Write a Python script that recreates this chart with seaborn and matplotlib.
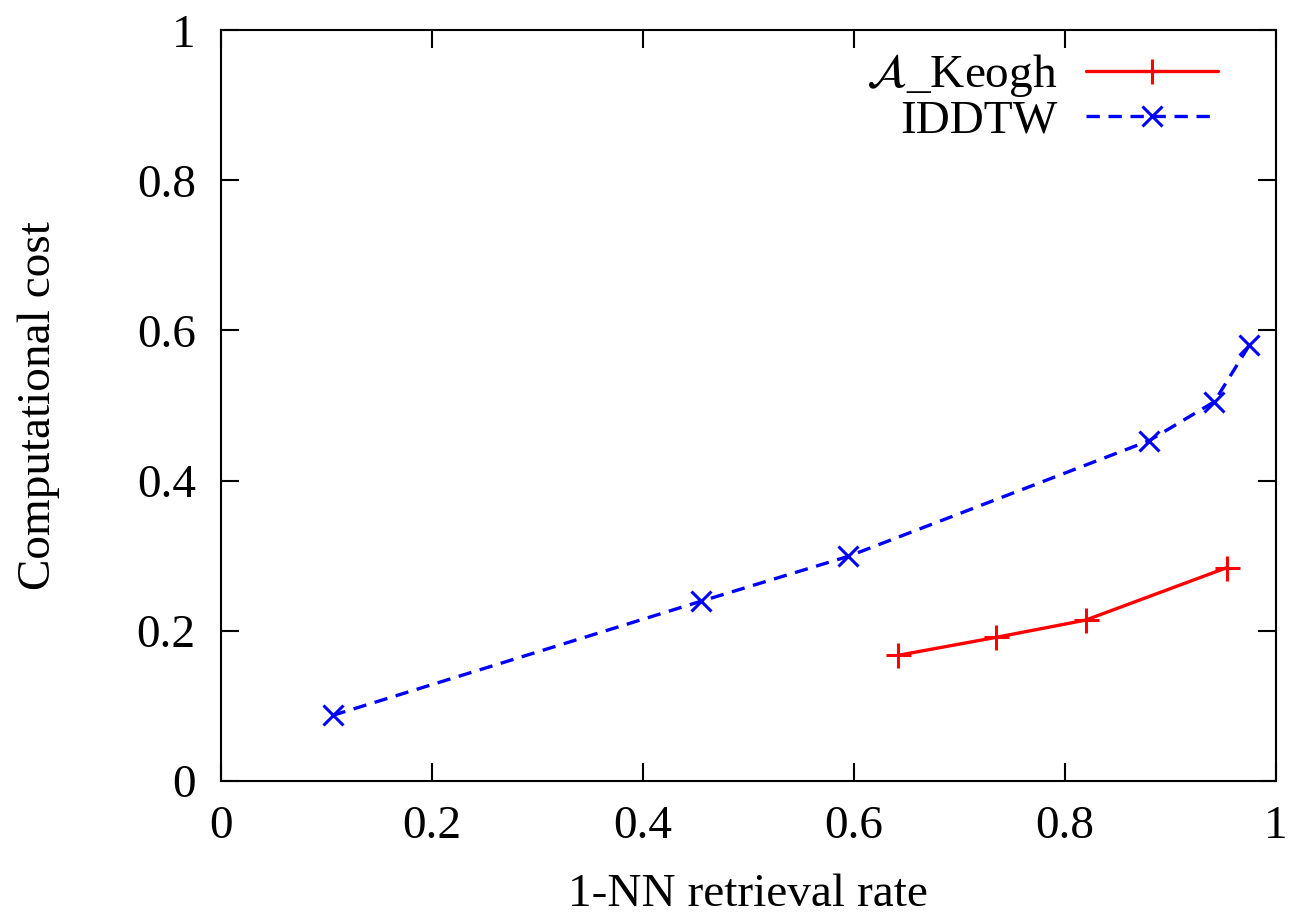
import pandas as pd
import matplotlib
matplotlib.use("Agg")
import matplotlib.pyplot as plt
import seaborn as sns

# values
keogh_rate = [0.642, 0.735, 0.820, 0.954]
keogh_cost = [0.167, 0.191, 0.214, 0.284]

iddtw_rate = [0.106, 0.455, 0.595, 0.880, 0.942, 0.975]
iddtw_cost = [0.087, 0.239, 0.299, 0.453, 0.505, 0.580]

ticks = [0, 0.2, 0.4, 0.6, 0.8, 1]

sns.set_style("ticks")
plt.rcParams["font.family"] = ["Liberation Serif", "DejaVu Serif"]
plt.rcParams["mathtext.fontset"] = "stix"
plt.rcParams["font.size"] = 34
plt.rcParams["text.color"] = "black"
plt.rcParams["axes.labelcolor"] = "black"

keogh = pd.DataFrame({"rate": keogh_rate, "cost": keogh_cost})
iddtw = pd.DataFrame({"rate": iddtw_rate, "cost": iddtw_cost})

fig = plt.figure(figsize=(12.91, 9.19), dpi=100)
ax = fig.add_axes([0.171, 0.1505, 0.817, 0.8165])

sns.lineplot(data=keogh, x="rate", y="cost", ax=ax, color="#ff0000",
             marker="+", markersize=18, markeredgewidth=2.2,
             markeredgecolor="#ff0000", linewidth=2.4,
             label=r"$\mathcal{A}$_Keogh")
sns.lineplot(data=iddtw, x="rate", y="cost", ax=ax, color="#0000ff",
             marker="x", markersize=15, markeredgewidth=2.2,
             markeredgecolor="#0000ff", linewidth=2.4,
             linestyle=(0, (4, 2.6)), label="IDDTW")

ax.set_xlim(0, 1)
ax.set_ylim(0, 1)
ax.set_xticks(ticks)
ax.set_yticks(ticks)
ax.set_xticklabels([f"{t:g}" for t in ticks])
ax.set_yticklabels([f"{t:g}" for t in ticks])
ax.tick_params(direction="in", length=13, width=1.5, top=True, right=True,
               labelsize=34, pad=18, colors="black")
for s in ax.spines.values():
    s.set_linewidth(1.5)
    s.set_color("black")

ax.set_xlabel("1-NN retrieval rate", fontsize=34, labelpad=18)
ax.set_ylabel("Computational cost", fontsize=34, labelpad=55)

ax.legend(loc="upper right", bbox_to_anchor=(0.977, 1.015),
          markerfirst=False, frameon=False, fontsize=34,
          handlelength=2.8, handletextpad=0.6, labelspacing=0.0,
          borderaxespad=0.3)

fig.savefig("out.png", dpi=100)
